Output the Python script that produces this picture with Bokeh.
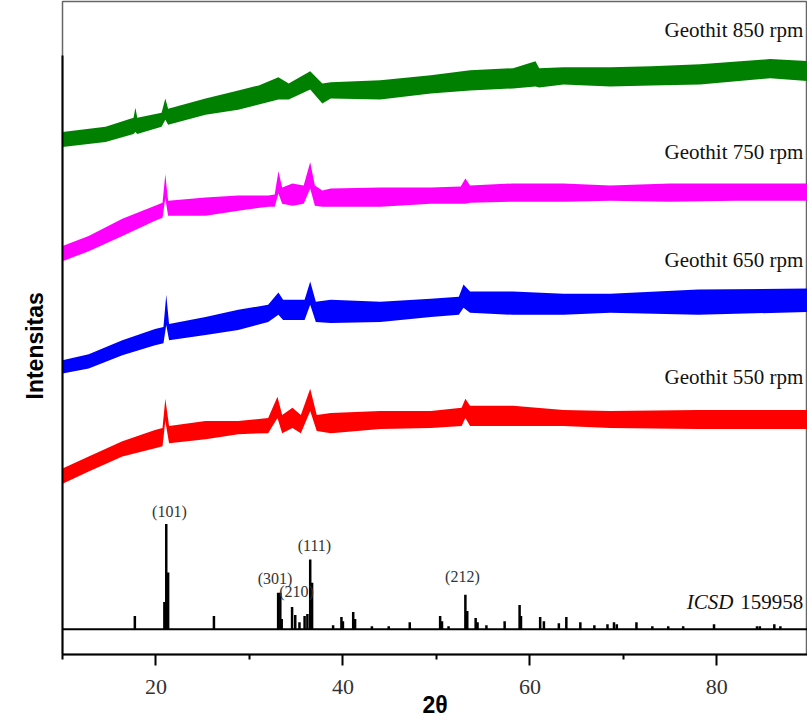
from bokeh.plotting import figure
from bokeh.models import Range1d, FixedTicker, Label, Title
from bokeh.embed import file_html
from bokeh.resources import INLINE

# ---------------- data (2θ in degrees, intensity in arbitrary units) ----------------
# Geothit 850 rpm (green): band envelope
g850_x = [10.0, 14.6, 17.6, 17.8, 18.0, 20.6, 21.0, 21.3, 25.3, 28.8, 31.0, 33.1, 34.2, 36.5, 37.8,
          38.7, 44.0, 49.4, 53.6, 58.2, 60.6, 61.0, 63.6, 68.6, 73.0, 78.2, 85.7, 90.0]
g850_hi = [517, 522, 531, 541, 531, 536, 550, 540, 550, 558, 563, 571, 565, 577, 565,
           566, 568, 573, 578, 580, 587, 580, 581, 581, 582, 584, 589, 587]
g850_lo = [502, 507, 515, 517, 515, 522, 529, 524, 534, 539, 544, 549, 549, 559, 545,
           550, 549, 555, 558, 560, 562, 561, 564, 562, 563, 564, 570, 567]

# Geothit 750 rpm (magenta)
g750_x = [10.0, 12.8, 16.4, 19.9, 20.7, 21.0, 21.3, 25.3, 28.8, 32.0, 32.7, 33.1, 33.5, 34.6, 35.8,
          36.5, 37.0, 37.8, 38.7, 44.0, 49.4, 52.6, 53.1, 53.6, 58.2, 63.6, 68.6, 75.0, 82.0, 90.0]
g750_hi = [404, 414, 431, 444, 447, 475, 449, 452, 454, 454, 455, 478, 462, 466, 464,
           487, 464, 459, 461, 462, 462, 463, 471, 464, 466, 466, 464, 466, 466, 466]
g750_lo = [389, 399, 414, 429, 432, 451, 434, 434, 439, 443, 443, 456, 446, 444, 446,
           461, 444, 443, 443, 443, 446, 446, 446, 447, 448, 448, 449, 448, 449, 449]

# Geothit 650 rpm (blue)
g650_x = [10.0, 12.8, 16.4, 19.9, 20.8, 21.1, 21.4, 25.3, 28.8, 32.0, 33.1, 33.6, 35.9, 36.5, 37.1,
          38.7, 44.0, 49.4, 52.4, 52.9, 53.6, 58.2, 63.6, 68.6, 78.0, 90.0]
g650_hi = [291, 297, 311, 322, 324, 356, 327, 334, 341, 346, 358, 351, 351, 369, 349,
           351, 349, 352, 354, 366, 359, 359, 357, 357, 361, 362]
g650_lo = [278, 283, 296, 306, 308, 326, 311, 316, 321, 329, 336, 331, 331, 346, 329,
           328, 329, 334, 336, 343, 338, 336, 336, 338, 336, 339]

# Geothit 550 rpm (red)
g550_x = [10.0, 12.8, 16.4, 19.9, 20.7, 21.0, 21.4, 25.3, 28.8, 32.0, 33.0, 33.5, 34.6, 35.5, 36.5,
          37.2, 38.7, 44.0, 49.4, 52.7, 53.1, 53.6, 58.2, 63.6, 68.6, 78.0, 90.0]
g550_hi = [184, 196, 211, 222, 224, 253, 226, 231, 231, 234, 255, 237, 244, 237, 263,
           237, 239, 241, 241, 244, 253, 246, 246, 242, 241, 242, 242]
g550_lo = [169, 181, 196, 204, 206, 231, 209, 213, 218, 219, 234, 219, 224, 219, 241,
           221, 219, 223, 224, 226, 234, 226, 226, 226, 224, 223, 223]

# ICSD 159958 reference pattern: peak positions and heights above a flat baseline
icsd_base = 25
icsd_pos = [17.74, 20.9, 21.1, 21.3, 26.2, 33.07, 33.3, 33.45, 34.56, 34.9, 35.35, 35.9, 36.2, 36.5, 36.7,
            38.95, 39.84, 40.0, 41.1, 41.3, 43.1, 44.9, 47.15, 50.4, 50.6, 51.3, 53.1, 53.3, 54.2,
            54.4, 55.35, 57.3, 58.9, 59.05, 61.1, 61.5, 63.1, 63.9, 65.4, 66.9, 68.3, 69.0, 69.3,
            71.4, 73.1, 74.8, 76.4, 79.7, 84.3, 84.6, 86.15, 86.8]
icsd_int = [38, 52, 129, 81, 38, 61, 61, 35, 47, 39, 32, 38, 40, 94, 71,
            29, 37, 33, 42, 35, 28, 28, 32, 38, 33, 28, 59, 43, 36,
            32, 29, 33, 49, 38, 37, 33, 31, 37, 32, 29, 30, 32, 30,
            32, 28, 28, 28, 30, 28, 28, 30, 28]

# Miller indices labels and their positions
hkl_text = ["(101)", "(301)", "(210)", "(111)", "(212)"]
hkl_x = [21.44, 32.73, 35.03, 36.95, 52.78]
hkl_y = [141, 75, 62, 108, 77]

series_names = ["Geothit 850 rpm", "Geothit 750 rpm", "Geothit 650 rpm", "Geothit 550 rpm"]
series_colors = ["#008000", "#FF00FF", "#0000FF", "#FF0000"]
name_y = [618, 497, 390, 275]

x_ticks = [20, 40, 60, 80]
x_minor = [10, 30, 50, 70, 90]
X_MIN, X_MAX = 10, 89.7
Y_MIN, Y_MAX = 0, 646

# ---------------- figure ----------------
p = figure(width=807, height=720, output_backend="svg", toolbar_location=None,
           x_range=Range1d(X_MIN, X_MAX), y_range=Range1d(Y_MIN, Y_MAX),
           min_border_left=62, min_border_right=0, min_border_top=1, min_border_bottom=65)
p.grid.visible = False
p.outline_line_color = "#666666"
p.outline_line_width = 1.5
p.background_fill_color = "white"
p.border_fill_color = "white"

# bands
bands = [(g850_x, g850_lo, g850_hi), (g750_x, g750_lo, g750_hi),
         (g650_x, g650_lo, g650_hi), (g550_x, g550_lo, g550_hi)]
for (xs, lo, hi), col in zip(bands, series_colors):
    p.varea(x=xs, y1=lo, y2=hi, fill_color=col, fill_alpha=1.0)

# reference pattern
p.line(x=[X_MIN, 90], y=[icsd_base, icsd_base], line_color="black", line_width=2)
p.segment(x0=icsd_pos, y0=[icsd_base] * len(icsd_pos), x1=icsd_pos, y1=icsd_int,
          line_color="black", line_width=2.5)

# x axis
xa = p.xaxis[0]
xa.ticker = FixedTicker(ticks=x_ticks, minor_ticks=x_minor)
xa.axis_line_width = 2
xa.axis_line_color = "black"
xa.major_tick_in = 0
xa.major_tick_out = 11
xa.minor_tick_in = 0
xa.minor_tick_out = 5
xa.major_tick_line_width = 2
xa.minor_tick_line_width = 2
xa.major_label_text_font = "Liberation Serif"
xa.major_label_text_font_size = "22px"
xa.major_label_text_color = "#333333"
xa.major_label_standoff = 14
xa.axis_label = "2θ"
xa.axis_label_text_font = "Liberation Sans"
xa.axis_label_text_font_style = "bold"
xa.axis_label_text_font_size = "23px"
xa.axis_label_text_color = "black"
xa.axis_label_standoff = -5

# y axis
ya = p.yaxis[0]
ya.ticker = FixedTicker(ticks=[])
ya.bounds = (0, 593)
ya.axis_line_width = 2
ya.axis_line_color = "black"
ya.major_tick_in = 0
ya.major_tick_out = 0
ya.minor_tick_in = 0
ya.minor_tick_out = 0
ya.major_label_text_font_size = "0px"

# y label as a left title (offset from the bottom of the frame)
p.add_layout(Title(text="Intensitas", align="left", offset=255, standoff=30,
                   text_font="Liberation Sans", text_font_style="bold",
                   text_font_size="23px", text_color="black"), "left")

# series names
for name, yy in zip(series_names, name_y):
    p.add_layout(Label(x=89.25, y=yy, text=name, text_align="right", text_baseline="alphabetic",
                       text_font="Liberation Serif", text_font_size="21px", text_color="#111111"))

# ICSD label
p.add_layout(Label(x=81.77, y=52, text="ICSD", text_align="right", text_baseline="alphabetic",
                   text_font="Liberation Serif", text_font_style="italic",
                   text_font_size="21px", text_color="#111111"))
p.add_layout(Label(x=82.51, y=52, text="159958", text_align="left", text_baseline="alphabetic",
                   text_font="Liberation Serif", text_font_size="21px", text_color="#111111"))

# hkl labels
for t, xx, yy in zip(hkl_text, hkl_x, hkl_y):
    p.add_layout(Label(x=xx, y=yy, text=t, text_align="center", text_baseline="middle",
                       text_font="Liberation Serif", text_font_size="16px", text_color="#333333"))

open("out.html", "w").write(file_html(p, INLINE))
